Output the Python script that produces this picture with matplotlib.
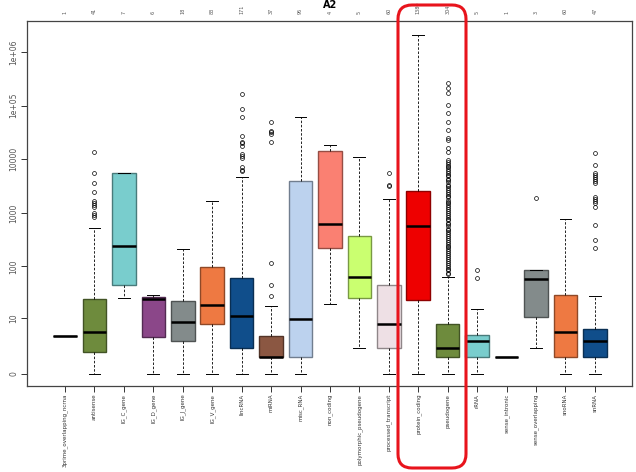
import matplotlib.pyplot as plt
from matplotlib.patches import FancyBboxPatch
from matplotlib.colors import to_rgb
import numpy as np

# gene biotypes
names = ["3prime_overlapping_ncrna", "antisense", "IG_C_gene", "IG_D_gene", "IG_J_gene",
         "IG_V_gene", "lincRNA", "miRNA", "misc_RNA", "non_coding",
         "polymorphic_pseudogene", "processed_transcript", "protein_coding", "pseudogene",
         "rRNA", "sense_intronic", "sense_overlapping", "snoRNA", "snRNA"]
counts = ["1", "41", "7", "6", "18", "83", "171", "37", "96", "4",
          "5", "60", "1380", "304", "5", "1", "3", "60", "47"]

# box stats in log10(value + 1)
q1 = [0.714, 0.404, 1.658, 0.695, 0.609, 0.926, 0.484, 0.311, 0.322, 2.342,
      1.410, 0.490, 1.379, 0.317, 0.317, 0.322, 1.062, 0.317, 0.317]
med = [0.714, 0.788, 2.385, 1.400, 0.963, 1.291, 1.085, 0.322, 1.025, 2.795,
       1.802, 0.926, 2.758, 0.490, 0.615, 0.322, 1.770, 0.788, 0.615]
q3 = [0.714, 1.392, 3.739, 1.440, 1.366, 1.988, 1.789, 0.714, 3.600, 4.161,
      2.566, 1.658, 3.415, 0.925, 0.721, 0.322, 1.932, 1.478, 0.844]
wlo = [0.714, 0.0, 1.410, 0.0, 0.0, 0.0, 0.0, 0.0, 0.0, 1.304,
       0.490, 0.0, 0.0, 0.0, 0.0, 0.322, 0.490, 0.0, 0.0]
whi = [0.714, 2.720, 3.739, 1.465, 2.335, 3.229, 3.676, 1.273, 4.790, 4.258,
       4.038, 3.255, 6.322, 1.800, 1.211, 0.322, 1.932, 2.888, 1.459]

out_antisense = [4.13, 3.75, 3.55, 3.40, 3.22, 3.18, 3.14, 3.11, 3.00, 2.96, 2.92]
out_linc = [5.22, 4.93, 4.79, 4.43, 4.33, 4.30, 4.25, 4.10, 4.06, 4.02, 3.85, 3.81, 3.79]
out_mirna = [4.70, 4.53, 4.50, 4.47, 4.33, 2.074, 1.658, 1.453]
out_processed = [3.745, 3.53, 3.50]
out_pseudo = [5.42, 5.32, 5.23, 5.01, 4.86, 4.70, 4.55, 4.39, 4.36, 4.21, 4.14,
              3.98, 3.95, 3.92, 3.88, 3.85, 3.82, 3.78, 3.75, 3.71, 3.68, 3.64,
              3.61, 3.57, 3.53, 3.50, 3.46, 3.43, 3.39, 3.36, 3.32, 3.29, 3.25,
              3.21, 3.18, 3.14, 3.11, 3.07, 3.04, 3.00, 2.96, 2.93, 2.89, 2.86,
              2.82, 2.79, 2.75, 2.71, 2.68, 2.64, 2.61, 2.57, 2.54, 2.50, 2.46,
              2.43, 2.39, 2.36, 2.32, 2.29, 2.25, 2.21, 2.18, 2.14, 2.11, 2.07,
              2.04, 2.00, 1.96, 1.93, 1.89, 1.86]
out_rrna = [1.943, 1.789]
out_senseov = [3.285]
out_snrna = [4.11, 3.89, 3.74, 3.71, 3.67, 3.63, 3.60, 3.55, 3.30, 3.26, 3.22,
             3.19, 3.12, 2.78, 2.50, 2.34]
fliers = [[], out_antisense, [], [], [], [], out_linc, out_mirna, [], [],
          [], out_processed, [], out_pseudo, out_rrna, [], out_senseov, [], out_snrna]

colors = ["#000000", "#6e8b3d", "#79cdcd", "#8b4789", "#838b8b", "#ee7942", "#104e8b",
          "#8b5742", "#bcd2ee", "#fa8072", "#caff70", "#eee0e5", "#ee0000", "#6e8b3d",
          "#79cdcd", "#000000", "#838b8b", "#ee7942", "#104e8b"]

ytick_vals = [0, 10, 100, 1000, 10000, 100000, 1000000]
ytick_labels = ["0", "10", "100", "1000", "10000", "1e+05", "1e+06"]

fig = plt.figure(figsize=(6.36, 4.72), dpi=100)
ax = fig.add_axes([27 / 636, 1 - 386 / 472, 605 / 636, 365 / 472])

stats = []
for i in range(len(names)):
    stats.append({"q1": q1[i], "med": med[i], "q3": q3[i], "whislo": wlo[i],
                  "whishi": whi[i], "fliers": fliers[i]})

pos = list(range(1, len(names) + 1))
bp = ax.bxp(stats, positions=pos, widths=0.8, patch_artist=True, capwidths=0.4,
            medianprops=dict(color="black", lw=1.8),
            whiskerprops=dict(color="black", lw=0.6, linestyle=(0, (3, 2))),
            capprops=dict(color="black", lw=0.7),
            flierprops=dict(marker="o", markersize=2.8, markerfacecolor="none",
                            markeredgecolor="black", markeredgewidth=0.5))
for patch, c in zip(bp["boxes"], colors):
    r, g, b = to_rgb(c)
    patch.set_facecolor(c)
    patch.set_edgecolor((r * 0.6, g * 0.6, b * 0.6))
    patch.set_linewidth(1.0)

ax.set_xlim(-0.29, 20.26)
ax.set_ylim(-0.2236, 6.577)

ax.set_yticks(np.log10(np.array(ytick_vals) + 1))
ax.set_yticklabels(ytick_labels, rotation=90, va="center", fontsize=5.5, color="#555555")
ax.set_xticks(pos)
ax.set_xticklabels(names, rotation=90, fontsize=4.0, color="#333333")
ax.tick_params(axis="both", length=4, width=0.7, color="#333333")
ax.tick_params(axis="x", pad=1.5)
ax.tick_params(axis="y", pad=2)

# sample counts along the top
for p, n in zip(pos, counts):
    ax.text(p, 6.70, n, rotation=90, ha="center", va="bottom", fontsize=3.5,
            color="#555555", clip_on=False)

for s in ax.spines.values():
    s.set_color("#444444")
    s.set_linewidth(0.9)

fig.text(330 / 636, 1 - 5 / 472, "A2", fontsize=7, fontweight="bold",
         ha="center", va="center")

# red highlight around protein_coding / pseudogene
box = FancyBboxPatch((398 / 100, (472 - 468) / 100), 68 / 100, 463 / 100,
                     boxstyle="round,pad=0,rounding_size=0.14",
                     transform=fig.dpi_scale_trans, fill=False,
                     edgecolor="#e8141c", lw=2.2)
fig.add_artist(box)

fig.savefig("out.png", dpi=100)
